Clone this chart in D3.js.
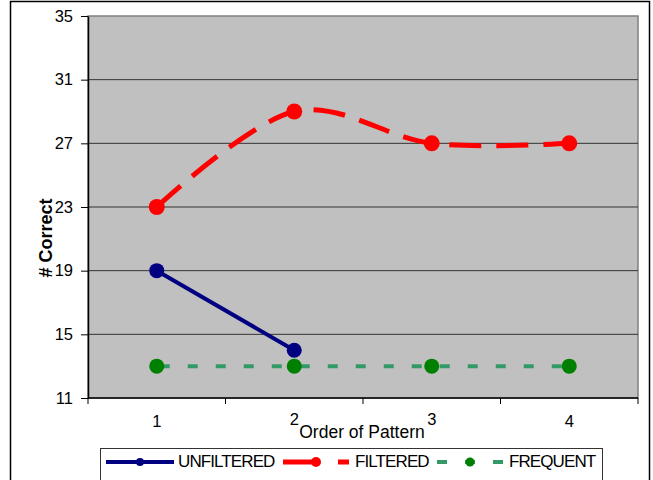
<!DOCTYPE html>
<html>
<head>
<meta charset="utf-8">
<script src="https://cdn.jsdelivr.net/npm/d3@7"></script>
<style>
  body { margin: 0; background: #fff; }
  svg text { font-family: Arial, "Liberation Sans", sans-serif; }
</style>
</head>
<body>
<div id="chart"></div>
<script>
// chart data
const categories = ["1", "2", "3", "4"];
const unfiltered = [19, 14];
const filtered = [23, 29, 27, 27];
const frequent = [13, 13, 13, 13];
const yTicks = [11, 15, 19, 23, 27, 31, 35];

const width = 653;
const height = 480;

const plot = { left: 88, top: 16, right: 638, bottom: 398 };

const navy = "#000080";
const red = "#ff0000";
const seaGreen = "#339966";
const green = "#008000";

const svg = d3.select("#chart").append("svg")
    .attr("width", width)
    .attr("height", height);

// outer frame
svg.append("rect")
    .attr("x", 10.5).attr("y", 1.5)
    .attr("width", 639).attr("height", 490)
    .attr("fill", "#fff")
    .attr("stroke", "#000")
    .attr("stroke-width", 1.5);

const x = d3.scalePoint()
    .domain(categories)
    .range([plot.left, plot.right])
    .padding(0.5);

const xBand = d3.scaleBand()
    .domain(categories)
    .range([plot.left, plot.right]);

const y = d3.scaleLinear()
    .domain([11, 35])
    .range([plot.bottom, plot.top]);

// plot area
svg.append("rect")
    .attr("x", plot.left).attr("y", plot.top)
    .attr("width", plot.right - plot.left)
    .attr("height", plot.bottom - plot.top)
    .attr("fill", "#c0c0c0")
    .attr("stroke", "#808080")
    .attr("stroke-width", 1.5);

// gridlines
svg.append("g")
    .selectAll("line")
    .data(yTicks.slice(1, -1))
    .join("line")
    .attr("x1", plot.left).attr("x2", plot.right)
    .attr("y1", d => y(d)).attr("y2", d => y(d))
    .attr("stroke", "#333")
    .attr("stroke-width", 1);

// y axis
const yAxis = svg.append("g")
    .attr("transform", `translate(${plot.left},0)`)
    .call(d3.axisLeft(y).tickValues(yTicks).tickSize(7).tickPadding(8).tickSizeOuter(0));
yAxis.select(".domain").attr("stroke", "#000").attr("stroke-width", 1.5);
yAxis.selectAll(".tick line").attr("stroke", "#000");
yAxis.selectAll("text")
    .attr("fill", "#000")
    .style("font-size", "16.5px")
    .style("font-family", "Arial, 'Liberation Sans', sans-serif");

// x axis: ticks sit on category boundaries
const boundaries = categories.map(c => xBand(c)).concat([plot.right]);
svg.append("line")
    .attr("x1", plot.left).attr("x2", plot.right)
    .attr("y1", plot.bottom).attr("y2", plot.bottom)
    .attr("stroke", "#000").attr("stroke-width", 1.5);
svg.append("g")
    .selectAll("line")
    .data(boundaries)
    .join("line")
    .attr("x1", d => d).attr("x2", d => d)
    .attr("y1", plot.bottom).attr("y2", plot.bottom + 6)
    .attr("stroke", "#000");
svg.append("g")
    .selectAll("text")
    .data(categories)
    .join("text")
    .attr("x", d => x(d))
    .attr("y", (d, i) => i === 0 || i === 3 ? 427 : 425)
    .attr("text-anchor", "middle")
    .style("font-size", "16.5px")
    .text(d => d);

// axis titles
svg.append("text")
    .attr("x", 362).attr("y", 438)
    .attr("text-anchor", "middle")
    .style("font-size", "17.5px")
    .text("Order of Pattern");

svg.append("text")
    .attr("transform", "translate(52,238) rotate(-90)")
    .attr("text-anchor", "middle")
    .style("font-size", "18px")
    .attr("font-weight", "bold")
    .text("# Correct");

// series lines
const line = d3.line()
    .x((d, i) => x(categories[i]))
    .y(d => y(d));

svg.append("path")
    .datum(frequent)
    .attr("d", line)
    .attr("fill", "none")
    .attr("stroke", seaGreen)
    .attr("stroke-width", 4)
    .attr("stroke-dasharray", "10,18")
    .attr("stroke-dashoffset", -3);

svg.append("path")
    .datum(filtered)
    .attr("d", line.curve(d3.curveCardinal.tension(0)))
    .attr("fill", "none")
    .attr("stroke", red)
    .attr("stroke-width", 5)
    .attr("stroke-dasharray", "32,15");
line.curve(d3.curveLinear);

svg.append("path")
    .datum(unfiltered)
    .attr("d", line)
    .attr("fill", "none")
    .attr("stroke", navy)
    .attr("stroke-width", 4);

// markers
function drawMarkers(values, color, r) {
    svg.append("g")
        .selectAll("circle")
        .data(values)
        .join("circle")
        .attr("cx", (d, i) => x(categories[i]))
        .attr("cy", d => y(d))
        .attr("r", r)
        .attr("fill", color);
}
drawMarkers(unfiltered, navy, 7.5);
drawMarkers(filtered, red, 8);
drawMarkers(frequent, green, 7.5);

// legend
svg.append("rect")
    .attr("x", 100.5).attr("y", 448.5)
    .attr("width", 502).attr("height", 40)
    .attr("fill", "#fff")
    .attr("stroke", "#333");

const legendItems = [
    { label: "UNFILTERED", color: navy, marker: navy, x1: 106, x2: 174, dash: null, w: 4, r: 4, tx: 178 },
    { label: "FILTERED", color: red, marker: red, x1: 283, x2: 349, dash: "31,24", w: 5, r: 5, tx: 355 },
    { label: "FREQUENT", color: seaGreen, marker: green, x1: 437, x2: 503, dash: "10,18", w: 4, r: 4.5, tx: 509 }
];
const ly = 462;
legendItems.forEach(item => {
    svg.append("line")
        .attr("x1", item.x1).attr("x2", item.x2)
        .attr("y1", ly).attr("y2", ly)
        .attr("stroke", item.color)
        .attr("stroke-width", item.w)
        .attr("stroke-dasharray", item.dash);
    svg.append("circle")
        .attr("cx", (item.x1 + item.x2) / 2)
        .attr("cy", ly)
        .attr("r", item.r)
        .attr("fill", item.marker);
    svg.append("text")
        .attr("x", item.tx).attr("y", 467)
        .style("font-size", "17px")
        .attr("letter-spacing", -0.9)
        .text(item.label);
});
</script>
</body>
</html>
